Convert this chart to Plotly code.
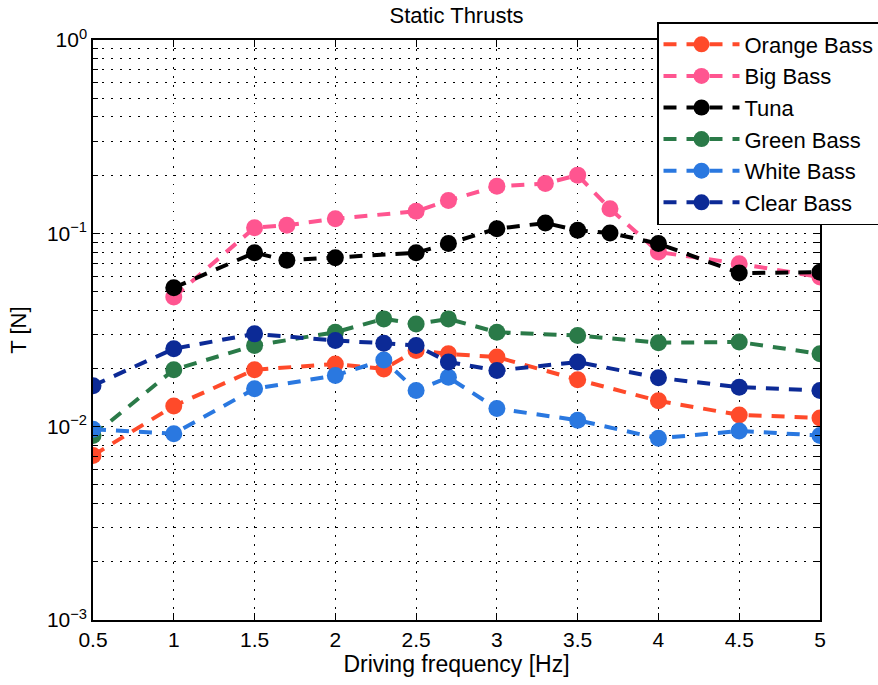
import plotly.graph_objects as go

# Driving frequencies [Hz]
freq_fish = [0.5, 1, 1.5, 2, 2.3, 2.5, 2.7, 3, 3.5, 4, 4.5, 5]
freq_big = [1, 1.5, 1.7, 2, 2.5, 2.7, 3, 3.3, 3.5, 3.7, 4, 4.5, 5]

# Static thrust [N]
orange_bass = [0.0071, 0.0128, 0.0197, 0.0211, 0.0199, 0.0248, 0.0238, 0.0229, 0.0175, 0.0136, 0.0115, 0.0111]
big_bass = [0.0468, 0.107, 0.110, 0.119, 0.130, 0.148, 0.175, 0.181, 0.200, 0.134, 0.080, 0.0697, 0.0594]
tuna = [0.0523, 0.0794, 0.0725, 0.0748, 0.0794, 0.0885, 0.1057, 0.113, 0.1037, 0.1004, 0.0885, 0.0623, 0.0630]
green_bass = [0.0090, 0.0197, 0.0263, 0.0308, 0.0361, 0.0340, 0.0361, 0.0308, 0.0296, 0.0272, 0.0274, 0.0238]
white_bass = [0.0097, 0.0092, 0.0157, 0.0184, 0.0221, 0.0154, 0.0180, 0.0124, 0.0108, 0.0087, 0.0095, 0.0090]
clear_bass = [0.0163, 0.0253, 0.0302, 0.0279, 0.0270, 0.0263, 0.0216, 0.0195, 0.0216, 0.0179, 0.0160, 0.0154]

series = [
    ("Orange Bass", freq_fish, orange_bass, "#ff4a2a"),
    ("Big Bass", freq_big, big_bass, "#ff5590"),
    ("Tuna", freq_big, tuna, "#000000"),
    ("Green Bass", freq_fish, green_bass, "#2a7a48"),
    ("White Bass", freq_fish, white_bass, "#2a78e0"),
    ("Clear Bass", freq_fish, clear_bass, "#0c2a96"),
]

x_ticks = [0.5, 1, 1.5, 2, 2.5, 3, 3.5, 4, 4.5, 5]
x_tick_text = ["0.5", "1", "1.5", "2", "2.5", "3", "3.5", "4", "4.5", "5"]

# Log-axis ticks: labelled decades, plus 2..9 sub-ticks as minor ticks
y_ticks = [0.001, 0.01, 0.1, 1.0]
y_tick_text = ["10<sup>\u22123</sup>", "10<sup>\u22122</sup>", "10<sup>\u22121</sup>", "10<sup>0</sup>"]
y_minor_ticks = [m * d for d in (0.001, 0.01, 0.1) for m in range(2, 10)]

font = "Liberation Sans, Arial, sans-serif"

fig = go.Figure()
for name, xs, ys, color in series:
    fig.add_trace(go.Scatter(
        x=xs, y=ys, name=name, mode="lines+markers",
        line=dict(color=color, width=4, dash="13px,10px"),
        marker=dict(color=color, size=17, line=dict(width=0)),
    ))

grid_dash = "1.5px,7.5px"
fig.update_layout(
    width=878, height=685,
    margin=dict(l=93, r=58, t=40, b=65, autoexpand=False),
    paper_bgcolor="white", plot_bgcolor="white",
    font=dict(family=font, size=21, color="black"),
    title=dict(text="Static Thrusts", x=(93 + 820) / 2 / 878, xanchor="center",
               y=1 - 15 / 685, yanchor="middle", font=dict(size=22)),
    legend=dict(x=(657 - 93) / 727, y=1 + 18 / 580, xanchor="left", yanchor="top",
                bgcolor="white", bordercolor="black", borderwidth=1.5,
                font=dict(size=22), itemwidth=76, tracegroupgap=0),
    showlegend=True,
)
fig.update_xaxes(
    range=[0.5, 5], tickvals=x_ticks, ticktext=x_tick_text,
    showline=True, linecolor="black", linewidth=1.5, mirror="ticks",
    ticks="inside", ticklen=7, tickcolor="black",
    showgrid=True, gridcolor="black", gridwidth=1, griddash=grid_dash,
    zeroline=False,
    title=dict(text="Driving frequency [Hz]", font=dict(size=23), standoff=4),
)
fig.update_yaxes(
    type="log", range=[-3, 0], tickvals=y_ticks, ticktext=y_tick_text,
    showline=True, linecolor="black", linewidth=1.5, mirror="ticks",
    ticks="inside", ticklen=7, tickcolor="black",
    showgrid=True, gridcolor="black", gridwidth=1, griddash=grid_dash,
    minor=dict(tickmode="array", tickvals=y_minor_ticks, ticks="inside",
               ticklen=5, tickcolor="black", showgrid=True,
               gridcolor="black", gridwidth=1, griddash=grid_dash),
    zeroline=False,
    title=dict(text="T [N]", font=dict(size=22), standoff=14),
)

fig.write_html("out.html")
